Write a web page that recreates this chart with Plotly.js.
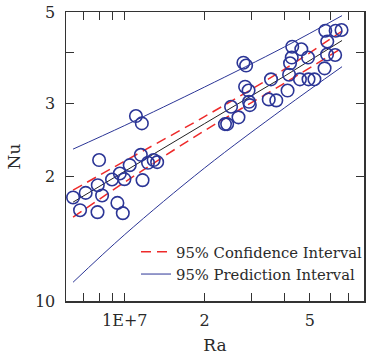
<!DOCTYPE html>
<html>
<head>
<meta charset="utf-8">
<script src="https://cdn.plot.ly/plotly-3.0.1.min.js"></script>
<style>html,body{margin:0;padding:0;overflow:hidden;background:#fff;}</style>
</head>
<body>
<div id="chart" style="width:368px;height:358px;"></div>
<script>
// Measured data points (Ra, Nu)
const ra = [6.38e6,6.78e6,7.12e6,7.91e6,7.89e6,8.00e6,8.21e6,8.95e6,9.38e6,9.83e6,
            9.58e6,9.97e6,1.044e7,1.150e7,1.167e7,1.224e7,1.285e7,1.325e7,1.102e7,1.160e7,
            2.389e7,2.435e7,2.519e7,2.687e7,2.805e7,2.871e7,2.846e7,2.933e7,2.945e7,2.966e7,
            3.565e7,3.496e7,3.732e7,4.116e7,4.172e7,4.207e7,4.269e7,4.287e7,4.639e7,4.917e7,
            4.584e7,4.939e7,5.198e7,5.679e7,5.802e7,6.225e7,5.812e7,5.713e7,6.252e7,6.58e7];
const nu = [1.780,1.658,1.826,1.906,1.640,2.192,1.800,1.967,1.727,1.631,
            2.034,1.971,2.131,2.257,1.960,2.159,2.192,2.167,2.801,2.689,
            2.678,2.678,2.950,2.781,3.770,3.711,3.298,3.228,3.032,2.977,
            3.436,3.073,3.056,3.228,3.526,3.757,3.880,4.121,4.062,3.880,
            3.436,3.436,3.436,3.653,3.946,3.935,4.242,4.506,4.506,4.523];

// Fit line and interval bands
const bandRa = [6.38e6, 1e7, 2e7, 4e7, 6.61e7];
const fitNu  = [1.734, 2.061, 2.685, 3.494, 4.266];
const confHi = [1.854, 2.180, 2.792, 3.633, 4.498];
const confLo = [1.595, 1.939, 2.582, 3.361, 4.092];
const predHi = [2.330, 2.658, 3.292, 4.114, 4.900];
const predLo = [1.110, 1.448, 2.097, 2.929, 3.687];

// Tick labels
const xTickVals = [6e6,7e6,8e6,9e6,1e7,2e7,3e7,4e7,5e7,6e7,7e7,8e7];
const xTickText = ["","","","","1E+7","2","","","5","","",""];
const yTickVals = [1,2,3,4,5];
const yTickText = ["10","2","3","","5"];

const FONT = "DejaVu Serif, serif";
const blue = "#2b3596";
const red = "#ee2a2a";
const ink = "#2a2a2a";

const traces = [
  {x: bandRa, y: predHi, mode: "lines", line: {color: blue, width: 1, shape: "spline"}, showlegend: false, hoverinfo: "skip"},
  {x: bandRa, y: predLo, mode: "lines", line: {color: blue, width: 1, shape: "spline"}, showlegend: false, hoverinfo: "skip"},
  {x: bandRa, y: confHi, mode: "lines", line: {color: red, width: 1.5, dash: "10px,6px", shape: "spline"}, showlegend: false, hoverinfo: "skip"},
  {x: bandRa, y: confLo, mode: "lines", line: {color: red, width: 1.5, dash: "10px,6px", shape: "spline"}, showlegend: false, hoverinfo: "skip"},
  {x: bandRa, y: fitNu, mode: "lines", line: {color: "#222", width: 1}, showlegend: false, hoverinfo: "skip"},
  {x: ra, y: nu, mode: "markers", marker: {symbol: "circle-open", size: 12.5, color: blue, line: {width: 1.6, color: blue}}, showlegend: false},
  {x: [null], y: [null], mode: "lines", line: {color: red, width: 1.5, dash: "10px,6px"}, name: "95% Confidence Interval"},
  {x: [null], y: [null], mode: "lines", line: {color: blue, width: 1}, name: "95% Prediction Interval"}
];

const layout = {
  width: 368, height: 358,
  margin: {l: 66, r: 0, t: 12, b: 57},
  paper_bgcolor: "#fff", plot_bgcolor: "#fff",
  font: {family: FONT, color: ink, size: 15},
  showlegend: true,
  legend: {x: 0.235, y: 0.226, xanchor: "left", yanchor: "top", bgcolor: "rgba(0,0,0,0)",
           font: {family: FONT, size: 14.8, color: ink}, tracegroupgap: 0},
  xaxis: {
    type: "log", range: [Math.log10(6e6), Math.log10(8e7)],
    tickmode: "array", tickvals: xTickVals, ticktext: xTickText,
    ticks: "inside", ticklen: 8, tickwidth: 1, tickcolor: "#333",
    showline: true, linecolor: "#333", linewidth: 1.5, mirror: "ticks",
    showgrid: false, zeroline: false, ticklabelstandoff: 4,
    tickfont: {family: FONT, size: 16, color: ink},
    title: {text: "Ra", font: {family: FONT, size: 17, color: ink}, standoff: 10}
  },
  yaxis: {
    type: "log", range: [0, Math.log10(5)],
    tickmode: "array", tickvals: yTickVals, ticktext: yTickText,
    ticks: "inside", ticklen: 8, tickwidth: 1, tickcolor: "#333",
    showline: true, linecolor: "#333", linewidth: 1.5, mirror: "ticks",
    showgrid: false, zeroline: false, ticklabelstandoff: 6,
    tickfont: {family: FONT, size: 16, color: ink},
    title: {text: "Nu", font: {family: FONT, size: 17, color: ink}, standoff: 10}
  }
};

Plotly.newPlot("chart", traces, layout, {displayModeBar: false, staticPlot: true});
</script>
</body>
</html>
